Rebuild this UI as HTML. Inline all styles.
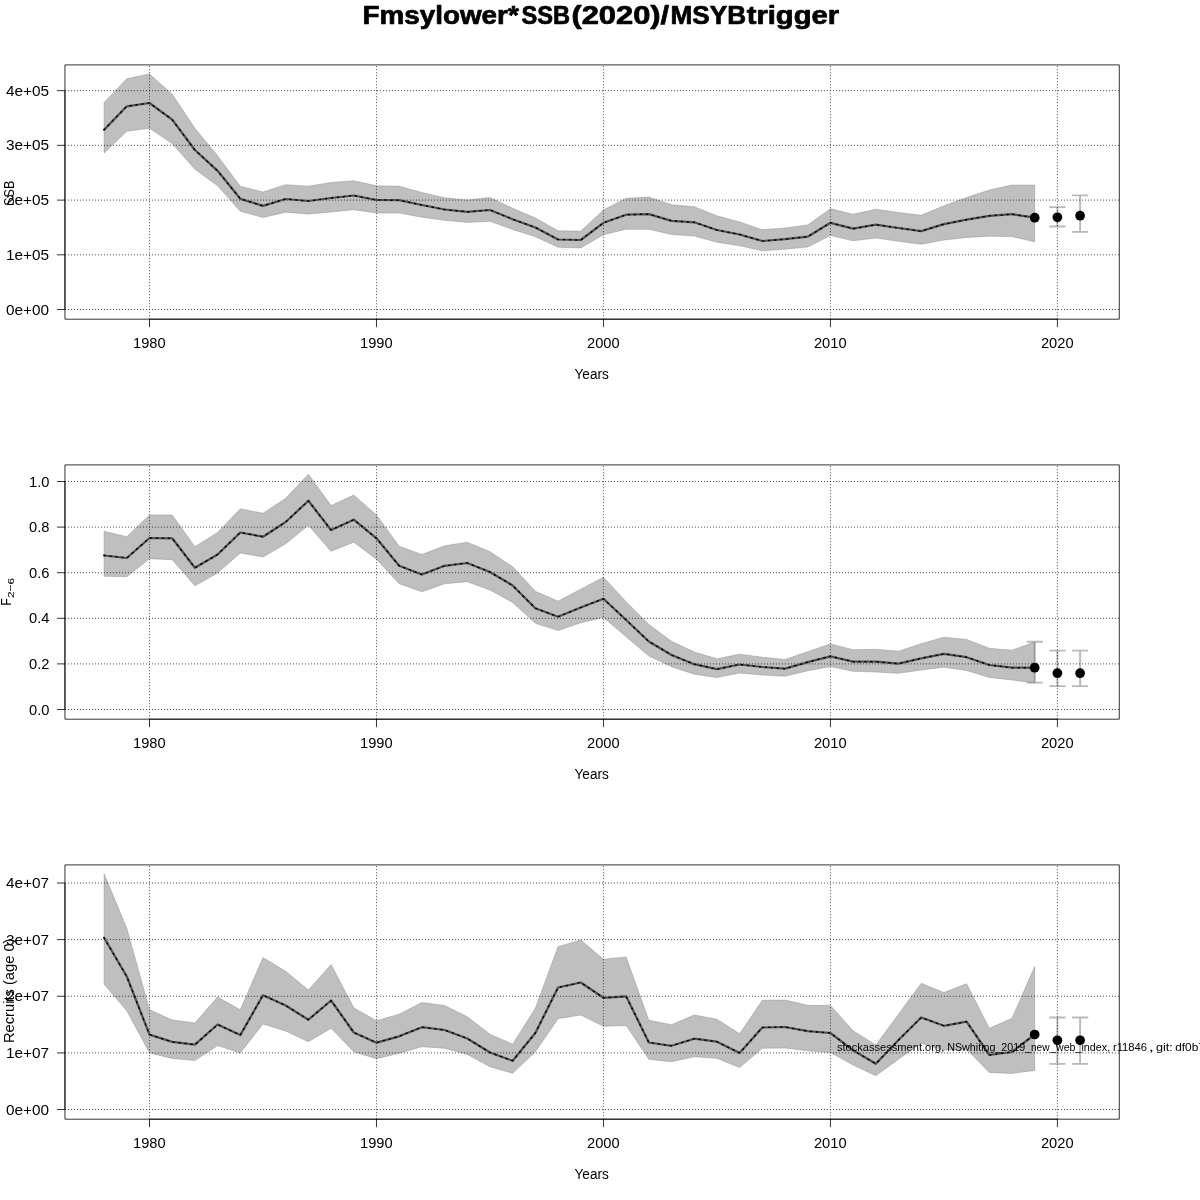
<!DOCTYPE html>
<html lang="en"><head><meta charset="utf-8"><title>Fmsylower*SSB(2020)/MSYBtrigger</title>
<style>html,body{margin:0;padding:0;background:#fff;}body{width:1200px;height:1200px;overflow:hidden;font-family:"Liberation Sans",sans-serif;}svg{display:block;will-change:transform;}</style></head>
<body>
<svg width="1200" height="1200" viewBox="0 0 1200 1200" font-family="'Liberation Sans', sans-serif" fill="#000">
<text x="362.5" y="23.6" font-size="25" font-weight="bold" stroke="#000" stroke-width="0.7" stroke-linejoin="round" textLength="156.26" lengthAdjust="spacingAndGlyphs">Fmsylower*</text>
<text x="521.55" y="23.6" font-size="25" font-weight="bold" stroke="#000" stroke-width="0.7" stroke-linejoin="round" textLength="48.57" lengthAdjust="spacingAndGlyphs">SSB</text>
<text x="571.4" y="23.6" font-size="25" font-weight="bold" stroke="#000" stroke-width="0.7" stroke-linejoin="round" textLength="97.76" lengthAdjust="spacingAndGlyphs">(2020)/</text>
<text x="670.5" y="23.6" font-size="25" font-weight="bold" stroke="#000" stroke-width="0.7" stroke-linejoin="round" textLength="75.56" lengthAdjust="spacingAndGlyphs">MSYB</text>
<text x="746.75" y="23.6" font-size="25" font-weight="bold" stroke="#000" stroke-width="0.7" stroke-linejoin="round" textLength="92.25" lengthAdjust="spacingAndGlyphs">trigger</text>
<g>
<path d="M1057.4 207.1V226.5M1049.3 207.1H1065.5M1049.3 226.5H1065.5" stroke="#7f7f7f" stroke-width="1.9" fill="none" stroke-opacity="0.55"/>
<path d="M1080.1 195.4V231.9M1072 195.4H1088.2M1072 231.9H1088.2" stroke="#7f7f7f" stroke-width="1.9" fill="none" stroke-opacity="0.55"/>
<polygon points="104.1,102.5 126.8,78.7 149.5,74.1 172.2,94.2 194.9,128.3 217.59,155.8 240.29,186.3 262.99,192 285.69,184.7 308.38,186.2 331.08,182.5 353.78,180.7 376.48,185.8 399.17,186.2 421.87,192.5 444.57,197.8 467.27,200 489.96,197.5 512.66,208.3 535.36,218 558.06,230.8 580.75,231.2 603.45,210 626.15,198.3 648.85,197.1 671.54,204.7 694.24,206.7 716.94,215.8 739.63,222 762.33,229.7 785.03,228 807.73,225 830.43,208.7 853.12,214.3 875.82,209.2 898.52,212.5 921.22,215.3 943.91,205.8 966.61,197.5 989.31,190 1012.01,185.1 1034.7,185.2 1034.7,241.8 1012.01,236.5 989.31,236.2 966.61,237.5 943.91,240 921.22,244.2 898.52,241.3 875.82,238 853.12,240.8 830.43,235.4 807.73,247 785.03,249.2 762.33,250.8 739.63,245.8 716.94,242.2 694.24,236 671.54,234.5 648.85,229.3 626.15,229.2 603.45,234.7 580.75,248 558.06,247.2 535.36,236.7 512.66,229.5 489.96,221.3 467.27,222.4 444.57,220.3 421.87,217.2 399.17,213 376.48,213 353.78,209.7 331.08,212 308.38,214 285.69,212.2 262.99,217.5 240.29,211.3 217.59,185.8 194.9,169.2 172.2,143.5 149.5,128.3 126.8,131.2 104.1,153" fill="#7f7f7f" fill-opacity="0.5" stroke="#7f7f7f" stroke-opacity="0.5" stroke-width="0.8" stroke-linejoin="round"/>
<line x1="64.95" y1="309.5" x2="1119.3" y2="309.5" stroke="#000" stroke-width="0.85" stroke-dasharray="0.85 2.15"/>
<line x1="64.95" y1="254.8" x2="1119.3" y2="254.8" stroke="#000" stroke-width="0.85" stroke-dasharray="0.85 2.15"/>
<line x1="64.95" y1="200.1" x2="1119.3" y2="200.1" stroke="#000" stroke-width="0.85" stroke-dasharray="0.85 2.15"/>
<line x1="64.95" y1="145.35" x2="1119.3" y2="145.35" stroke="#000" stroke-width="0.85" stroke-dasharray="0.85 2.15"/>
<line x1="64.95" y1="90.65" x2="1119.3" y2="90.65" stroke="#000" stroke-width="0.85" stroke-dasharray="0.85 2.15"/>
<line x1="149.5" y1="319.2" x2="149.5" y2="64.9" stroke="#000" stroke-width="0.85" stroke-dasharray="0.85 2.15"/>
<line x1="376.48" y1="319.2" x2="376.48" y2="64.9" stroke="#000" stroke-width="0.85" stroke-dasharray="0.85 2.15"/>
<line x1="603.45" y1="319.2" x2="603.45" y2="64.9" stroke="#000" stroke-width="0.85" stroke-dasharray="0.85 2.15"/>
<line x1="830.43" y1="319.2" x2="830.43" y2="64.9" stroke="#000" stroke-width="0.85" stroke-dasharray="0.85 2.15"/>
<line x1="1057.4" y1="319.2" x2="1057.4" y2="64.9" stroke="#000" stroke-width="0.85" stroke-dasharray="0.85 2.15"/>
<polyline points="104.1,129.7 126.8,106.3 149.5,103 172.2,119.7 194.9,150 217.59,170.8 240.29,198.8 262.99,205.8 285.69,199 308.38,201 331.08,198 353.78,195.5 376.48,200 399.17,200.2 421.87,205 444.57,209.5 467.27,211.8 489.96,210 512.66,219.2 535.36,227.5 558.06,239.5 580.75,240 603.45,222.8 626.15,214.7 648.85,214.1 671.54,220.8 694.24,222.3 716.94,230 739.63,234.5 762.33,241 785.03,239.2 807.73,236.7 830.43,222.8 853.12,228.7 875.82,224.7 898.52,228 921.22,231.2 943.91,224.2 966.61,219.7 989.31,215.8 1012.01,214.2 1034.7,217.7" fill="none" stroke="#505050" stroke-width="2.25" stroke-linejoin="round" stroke-linecap="round"/>
<polyline points="104.1,129.7 126.8,106.3 149.5,103 172.2,119.7 194.9,150 217.59,170.8 240.29,198.8 262.99,205.8 285.69,199 308.38,201 331.08,198 353.78,195.5 376.48,200 399.17,200.2 421.87,205 444.57,209.5 467.27,211.8 489.96,210 512.66,219.2 535.36,227.5 558.06,239.5 580.75,240 603.45,222.8 626.15,214.7 648.85,214.1 671.54,220.8 694.24,222.3 716.94,230 739.63,234.5 762.33,241 785.03,239.2 807.73,236.7 830.43,222.8 853.12,228.7 875.82,224.7 898.52,228 921.22,231.2 943.91,224.2 966.61,219.7 989.31,215.8 1012.01,214.2 1034.7,217.7" fill="none" stroke="#000" stroke-width="1.5" stroke-dasharray="1 5" stroke-linecap="round" stroke-linejoin="round"/>
<circle cx="1034.7" cy="217.7" r="4.85"/>
<circle cx="1057.4" cy="217.3" r="4.85"/>
<circle cx="1080.1" cy="215.7" r="4.85"/>
<rect x="64.95" y="64.9" width="1054.35" height="254.3" fill="none" stroke="#000" stroke-width="0.8" stroke-linejoin="round"/>
<path d="M64.95 90.65V309.5" stroke="#000" stroke-width="0.8" fill="none"/>
<path d="M149.5 319.2H1057.4" stroke="#000" stroke-width="0.8" fill="none"/>
<line x1="57" y1="309.5" x2="64.95" y2="309.5" stroke="#000" stroke-width="0.8"/>
<text x="6.0" y="315" font-size="14.0" textLength="43.12" lengthAdjust="spacingAndGlyphs">0e+00</text>
<line x1="57" y1="254.8" x2="64.95" y2="254.8" stroke="#000" stroke-width="0.8"/>
<text x="6.0" y="260" font-size="14.0" textLength="43.12" lengthAdjust="spacingAndGlyphs">1e+05</text>
<line x1="57" y1="200.1" x2="64.95" y2="200.1" stroke="#000" stroke-width="0.8"/>
<text x="6.0" y="205" font-size="14.0" textLength="43.12" lengthAdjust="spacingAndGlyphs">2e+05</text>
<line x1="57" y1="145.35" x2="64.95" y2="145.35" stroke="#000" stroke-width="0.8"/>
<text x="6.0" y="150" font-size="14.0" textLength="43.12" lengthAdjust="spacingAndGlyphs">3e+05</text>
<line x1="57" y1="90.65" x2="64.95" y2="90.65" stroke="#000" stroke-width="0.8"/>
<text x="6.0" y="96" font-size="14.0" textLength="43.12" lengthAdjust="spacingAndGlyphs">4e+05</text>
<line x1="149.5" y1="319.2" x2="149.5" y2="327.15" stroke="#000" stroke-width="0.8"/>
<text x="133.05" y="348" font-size="14.0" textLength="32.61" lengthAdjust="spacingAndGlyphs">1980</text>
<line x1="376.48" y1="319.2" x2="376.48" y2="327.15" stroke="#000" stroke-width="0.8"/>
<text x="360.03" y="348" font-size="14.0" textLength="32.61" lengthAdjust="spacingAndGlyphs">1990</text>
<line x1="603.45" y1="319.2" x2="603.45" y2="327.15" stroke="#000" stroke-width="0.8"/>
<text x="587" y="348" font-size="14.0" textLength="32.61" lengthAdjust="spacingAndGlyphs">2000</text>
<line x1="830.43" y1="319.2" x2="830.43" y2="327.15" stroke="#000" stroke-width="0.8"/>
<text x="813.98" y="348" font-size="14.0" textLength="32.61" lengthAdjust="spacingAndGlyphs">2010</text>
<line x1="1057.4" y1="319.2" x2="1057.4" y2="327.15" stroke="#000" stroke-width="0.8"/>
<text x="1040.95" y="348" font-size="14.0" textLength="32.61" lengthAdjust="spacingAndGlyphs">2020</text>
<text x="574.55" y="379" font-size="14.0" textLength="34.28" lengthAdjust="spacingAndGlyphs">Years</text>
</g>
<g>
<path d="M1034.7 641.8V682.6M1026.6 641.8H1042.8M1026.6 682.6H1042.8" stroke="#7f7f7f" stroke-width="1.9" fill="none" stroke-opacity="0.55"/>
<path d="M1057.4 650.6V686.1M1049.3 650.6H1065.5M1049.3 686.1H1065.5" stroke="#7f7f7f" stroke-width="1.9" fill="none" stroke-opacity="0.55"/>
<path d="M1080.1 650.6V686.1M1072 650.6H1088.2M1072 686.1H1088.2" stroke="#7f7f7f" stroke-width="1.9" fill="none" stroke-opacity="0.55"/>
<polygon points="104.1,531.3 126.8,536.7 149.5,515 172.2,515 194.9,546.7 217.59,532.5 240.29,508.8 262.99,513.3 285.69,498.3 308.38,474.2 331.08,505.5 353.78,495 376.48,515 399.17,546.2 421.87,554.5 444.57,545.8 467.27,542.2 489.96,551.7 512.66,566.7 535.36,591.3 558.06,601.2 580.75,589.2 603.45,577.2 626.15,601.7 648.85,624.4 671.54,641.3 694.24,652 716.94,658.8 739.63,654.2 762.33,657.2 785.03,659.5 807.73,651.7 830.43,644 853.12,649.7 875.82,649.3 898.52,651.2 921.22,643.7 943.91,637.2 966.61,639.5 989.31,648.3 1012.01,650.2 1034.7,642 1034.7,683 1012.01,680 989.31,677.5 966.61,670.5 943.91,667.2 921.22,670 898.52,673.3 875.82,672 853.12,671.3 830.43,666.5 807.73,670.8 785.03,676.2 762.33,675 739.63,673 716.94,677.5 694.24,674.2 671.54,666.7 648.85,656 626.15,636.7 603.45,617.5 580.75,622.8 558.06,630.5 535.36,623.3 512.66,602.5 489.96,590 467.27,581.7 444.57,583.8 421.87,591.7 399.17,583.7 376.48,559.2 353.78,542.2 331.08,551.3 308.38,525.3 285.69,543.8 262.99,557 240.29,553 217.59,573 194.9,585.8 172.2,559.7 149.5,558.7 126.8,576.7 104.1,576.3" fill="#7f7f7f" fill-opacity="0.5" stroke="#7f7f7f" stroke-opacity="0.5" stroke-width="0.8" stroke-linejoin="round"/>
<line x1="64.95" y1="709.5" x2="1119.3" y2="709.5" stroke="#000" stroke-width="0.85" stroke-dasharray="0.85 2.15"/>
<line x1="64.95" y1="663.9" x2="1119.3" y2="663.9" stroke="#000" stroke-width="0.85" stroke-dasharray="0.85 2.15"/>
<line x1="64.95" y1="618.3" x2="1119.3" y2="618.3" stroke="#000" stroke-width="0.85" stroke-dasharray="0.85 2.15"/>
<line x1="64.95" y1="572.7" x2="1119.3" y2="572.7" stroke="#000" stroke-width="0.85" stroke-dasharray="0.85 2.15"/>
<line x1="64.95" y1="527.1" x2="1119.3" y2="527.1" stroke="#000" stroke-width="0.85" stroke-dasharray="0.85 2.15"/>
<line x1="64.95" y1="481.5" x2="1119.3" y2="481.5" stroke="#000" stroke-width="0.85" stroke-dasharray="0.85 2.15"/>
<line x1="149.5" y1="719.2" x2="149.5" y2="464.9" stroke="#000" stroke-width="0.85" stroke-dasharray="0.85 2.15"/>
<line x1="376.48" y1="719.2" x2="376.48" y2="464.9" stroke="#000" stroke-width="0.85" stroke-dasharray="0.85 2.15"/>
<line x1="603.45" y1="719.2" x2="603.45" y2="464.9" stroke="#000" stroke-width="0.85" stroke-dasharray="0.85 2.15"/>
<line x1="830.43" y1="719.2" x2="830.43" y2="464.9" stroke="#000" stroke-width="0.85" stroke-dasharray="0.85 2.15"/>
<line x1="1057.4" y1="719.2" x2="1057.4" y2="464.9" stroke="#000" stroke-width="0.85" stroke-dasharray="0.85 2.15"/>
<polyline points="104.1,555.5 126.8,558 149.5,538 172.2,538.3 194.9,567.8 217.59,554.5 240.29,532.5 262.99,536.7 285.69,522 308.38,500.8 331.08,530 353.78,519.7 376.48,538.3 399.17,565.8 421.87,574.5 444.57,565.8 467.27,563 489.96,572 512.66,585.5 535.36,608.3 558.06,616.7 580.75,607.5 603.45,598.8 626.15,620 648.85,641.5 671.54,655 694.24,664.2 716.94,669.2 739.63,664.5 762.33,667 785.03,668.7 807.73,662.2 830.43,656.3 853.12,661.7 875.82,661.7 898.52,663.7 921.22,658.3 943.91,653.8 966.61,657.2 989.31,665 1012.01,667.7 1034.7,667.7" fill="none" stroke="#505050" stroke-width="2.25" stroke-linejoin="round" stroke-linecap="round"/>
<polyline points="104.1,555.5 126.8,558 149.5,538 172.2,538.3 194.9,567.8 217.59,554.5 240.29,532.5 262.99,536.7 285.69,522 308.38,500.8 331.08,530 353.78,519.7 376.48,538.3 399.17,565.8 421.87,574.5 444.57,565.8 467.27,563 489.96,572 512.66,585.5 535.36,608.3 558.06,616.7 580.75,607.5 603.45,598.8 626.15,620 648.85,641.5 671.54,655 694.24,664.2 716.94,669.2 739.63,664.5 762.33,667 785.03,668.7 807.73,662.2 830.43,656.3 853.12,661.7 875.82,661.7 898.52,663.7 921.22,658.3 943.91,653.8 966.61,657.2 989.31,665 1012.01,667.7 1034.7,667.7" fill="none" stroke="#000" stroke-width="1.5" stroke-dasharray="1 5" stroke-linecap="round" stroke-linejoin="round"/>
<circle cx="1034.7" cy="667.7" r="4.85"/>
<circle cx="1057.4" cy="673.2" r="4.85"/>
<circle cx="1080.1" cy="673.2" r="4.85"/>
<rect x="64.95" y="464.9" width="1054.35" height="254.3" fill="none" stroke="#000" stroke-width="0.8" stroke-linejoin="round"/>
<path d="M64.95 481.5V709.5" stroke="#000" stroke-width="0.8" fill="none"/>
<path d="M149.5 719.2H1057.4" stroke="#000" stroke-width="0.8" fill="none"/>
<line x1="57" y1="709.5" x2="64.95" y2="709.5" stroke="#000" stroke-width="0.8"/>
<text x="29.1" y="715" font-size="14.0" textLength="20.43" lengthAdjust="spacingAndGlyphs">0.0</text>
<line x1="57" y1="663.9" x2="64.95" y2="663.9" stroke="#000" stroke-width="0.8"/>
<text x="29.1" y="669" font-size="14.0" textLength="20.43" lengthAdjust="spacingAndGlyphs">0.2</text>
<line x1="57" y1="618.3" x2="64.95" y2="618.3" stroke="#000" stroke-width="0.8"/>
<text x="29.1" y="623" font-size="14.0" textLength="20.43" lengthAdjust="spacingAndGlyphs">0.4</text>
<line x1="57" y1="572.7" x2="64.95" y2="572.7" stroke="#000" stroke-width="0.8"/>
<text x="29.1" y="578" font-size="14.0" textLength="20.43" lengthAdjust="spacingAndGlyphs">0.6</text>
<line x1="57" y1="527.1" x2="64.95" y2="527.1" stroke="#000" stroke-width="0.8"/>
<text x="29.1" y="532" font-size="14.0" textLength="20.43" lengthAdjust="spacingAndGlyphs">0.8</text>
<line x1="57" y1="481.5" x2="64.95" y2="481.5" stroke="#000" stroke-width="0.8"/>
<text x="29.1" y="487" font-size="14.0" textLength="20.43" lengthAdjust="spacingAndGlyphs">1.0</text>
<line x1="149.5" y1="719.2" x2="149.5" y2="727.15" stroke="#000" stroke-width="0.8"/>
<text x="133.05" y="748" font-size="14.0" textLength="32.61" lengthAdjust="spacingAndGlyphs">1980</text>
<line x1="376.48" y1="719.2" x2="376.48" y2="727.15" stroke="#000" stroke-width="0.8"/>
<text x="360.03" y="748" font-size="14.0" textLength="32.61" lengthAdjust="spacingAndGlyphs">1990</text>
<line x1="603.45" y1="719.2" x2="603.45" y2="727.15" stroke="#000" stroke-width="0.8"/>
<text x="587" y="748" font-size="14.0" textLength="32.61" lengthAdjust="spacingAndGlyphs">2000</text>
<line x1="830.43" y1="719.2" x2="830.43" y2="727.15" stroke="#000" stroke-width="0.8"/>
<text x="813.98" y="748" font-size="14.0" textLength="32.61" lengthAdjust="spacingAndGlyphs">2010</text>
<line x1="1057.4" y1="719.2" x2="1057.4" y2="727.15" stroke="#000" stroke-width="0.8"/>
<text x="1040.95" y="748" font-size="14.0" textLength="32.61" lengthAdjust="spacingAndGlyphs">2020</text>
<text x="574.55" y="779" font-size="14.0" textLength="34.28" lengthAdjust="spacingAndGlyphs">Years</text>
</g>
<g>
<path d="M1057.4 1017.5V1063.9M1049.3 1017.5H1065.5M1049.3 1063.9H1065.5" stroke="#7f7f7f" stroke-width="1.9" fill="none" stroke-opacity="0.55"/>
<path d="M1080.1 1017.5V1063.9M1072 1017.5H1088.2M1072 1063.9H1088.2" stroke="#7f7f7f" stroke-width="1.9" fill="none" stroke-opacity="0.55"/>
<polygon points="104.1,873.8 126.8,928.3 149.5,1009.8 172.2,1019.9 194.9,1023 217.59,997 240.29,1009.8 262.99,957.6 285.69,971.3 308.38,990 331.08,964.5 353.78,1007.8 376.48,1020.8 399.17,1014.2 421.87,1002.5 444.57,1005.5 467.27,1016.7 489.96,1034.2 512.66,1044.2 535.36,1008.3 558.06,946.7 580.75,940 603.45,959.2 626.15,957 648.85,1020.3 671.54,1024.7 694.24,1015 716.94,1019.2 739.63,1033.8 762.33,1000.3 785.03,1000 807.73,1005.3 830.43,1005.5 853.12,1030.8 875.82,1045 898.52,1014.2 921.22,983.3 943.91,992.5 966.61,983.8 989.31,1028.3 1012.01,1018.2 1034.7,966.6 1034.7,1070.4 1012.01,1073.4 989.31,1072.5 966.61,1049.2 943.91,1050 921.22,1043.3 898.52,1059.2 875.82,1075.8 853.12,1065 830.43,1052.5 807.73,1050.8 785.03,1048 762.33,1048.3 739.63,1067.5 716.94,1058.3 694.24,1056.7 671.54,1061.7 648.85,1059.2 626.15,1025.5 603.45,1026.3 580.75,1015 558.06,1018.7 535.36,1051.7 512.66,1073.3 489.96,1066.7 467.27,1054.4 444.57,1048.3 421.87,1046.7 399.17,1053.3 376.48,1058.7 353.78,1051.7 331.08,1028.3 308.38,1041.7 285.69,1031 262.99,1024.1 240.29,1052.9 217.59,1045.6 194.9,1060.6 172.2,1058.4 149.5,1052.9 126.8,1010.8 104.1,984.2" fill="#7f7f7f" fill-opacity="0.5" stroke="#7f7f7f" stroke-opacity="0.5" stroke-width="0.8" stroke-linejoin="round"/>
<line x1="64.95" y1="1109.5" x2="1119.3" y2="1109.5" stroke="#000" stroke-width="0.85" stroke-dasharray="0.85 2.15"/>
<line x1="64.95" y1="1052.9" x2="1119.3" y2="1052.9" stroke="#000" stroke-width="0.85" stroke-dasharray="0.85 2.15"/>
<line x1="64.95" y1="996.25" x2="1119.3" y2="996.25" stroke="#000" stroke-width="0.85" stroke-dasharray="0.85 2.15"/>
<line x1="64.95" y1="939.6" x2="1119.3" y2="939.6" stroke="#000" stroke-width="0.85" stroke-dasharray="0.85 2.15"/>
<line x1="64.95" y1="883" x2="1119.3" y2="883" stroke="#000" stroke-width="0.85" stroke-dasharray="0.85 2.15"/>
<line x1="149.5" y1="1119.2" x2="149.5" y2="864.9" stroke="#000" stroke-width="0.85" stroke-dasharray="0.85 2.15"/>
<line x1="376.48" y1="1119.2" x2="376.48" y2="864.9" stroke="#000" stroke-width="0.85" stroke-dasharray="0.85 2.15"/>
<line x1="603.45" y1="1119.2" x2="603.45" y2="864.9" stroke="#000" stroke-width="0.85" stroke-dasharray="0.85 2.15"/>
<line x1="830.43" y1="1119.2" x2="830.43" y2="864.9" stroke="#000" stroke-width="0.85" stroke-dasharray="0.85 2.15"/>
<line x1="1057.4" y1="1119.2" x2="1057.4" y2="864.9" stroke="#000" stroke-width="0.85" stroke-dasharray="0.85 2.15"/>
<polyline points="104.1,937.8 126.8,976.5 149.5,1034.6 172.2,1041.9 194.9,1044.7 217.59,1024.5 240.29,1035.1 262.99,995.2 285.69,1005.5 308.38,1019.7 331.08,1000.5 353.78,1032.5 376.48,1042.7 399.17,1036.3 421.87,1027.2 444.57,1030 467.27,1038.5 489.96,1052.5 512.66,1060.8 535.36,1033 558.06,987.5 580.75,982.5 603.45,997.8 626.15,996.3 648.85,1042.5 671.54,1045.8 694.24,1038.7 716.94,1041.7 739.63,1053 762.33,1027.5 785.03,1027 807.73,1031.2 830.43,1033 853.12,1050.3 875.82,1063.8 898.52,1040 921.22,1017.5 943.91,1025.8 966.61,1021.7 989.31,1055 1012.01,1052 1034.7,1034.5" fill="none" stroke="#505050" stroke-width="2.25" stroke-linejoin="round" stroke-linecap="round"/>
<polyline points="104.1,937.8 126.8,976.5 149.5,1034.6 172.2,1041.9 194.9,1044.7 217.59,1024.5 240.29,1035.1 262.99,995.2 285.69,1005.5 308.38,1019.7 331.08,1000.5 353.78,1032.5 376.48,1042.7 399.17,1036.3 421.87,1027.2 444.57,1030 467.27,1038.5 489.96,1052.5 512.66,1060.8 535.36,1033 558.06,987.5 580.75,982.5 603.45,997.8 626.15,996.3 648.85,1042.5 671.54,1045.8 694.24,1038.7 716.94,1041.7 739.63,1053 762.33,1027.5 785.03,1027 807.73,1031.2 830.43,1033 853.12,1050.3 875.82,1063.8 898.52,1040 921.22,1017.5 943.91,1025.8 966.61,1021.7 989.31,1055 1012.01,1052 1034.7,1034.5" fill="none" stroke="#000" stroke-width="1.5" stroke-dasharray="1 5" stroke-linecap="round" stroke-linejoin="round"/>
<circle cx="1034.7" cy="1034.5" r="4.85"/>
<circle cx="1057.4" cy="1040.3" r="4.85"/>
<circle cx="1080.1" cy="1040.3" r="4.85"/>
<rect x="64.95" y="864.9" width="1054.35" height="254.3" fill="none" stroke="#000" stroke-width="0.8" stroke-linejoin="round"/>
<path d="M64.95 883V1109.5" stroke="#000" stroke-width="0.8" fill="none"/>
<path d="M149.5 1119.2H1057.4" stroke="#000" stroke-width="0.8" fill="none"/>
<line x1="57" y1="1109.5" x2="64.95" y2="1109.5" stroke="#000" stroke-width="0.8"/>
<text x="6.0" y="1115" font-size="14.0" textLength="43.12" lengthAdjust="spacingAndGlyphs">0e+00</text>
<line x1="57" y1="1052.9" x2="64.95" y2="1052.9" stroke="#000" stroke-width="0.8"/>
<text x="6.0" y="1058" font-size="14.0" textLength="43.12" lengthAdjust="spacingAndGlyphs">1e+07</text>
<line x1="57" y1="996.25" x2="64.95" y2="996.25" stroke="#000" stroke-width="0.8"/>
<text x="6.0" y="1001" font-size="14.0" textLength="43.12" lengthAdjust="spacingAndGlyphs">2e+07</text>
<line x1="57" y1="939.6" x2="64.95" y2="939.6" stroke="#000" stroke-width="0.8"/>
<text x="6.0" y="945" font-size="14.0" textLength="43.12" lengthAdjust="spacingAndGlyphs">3e+07</text>
<line x1="57" y1="883" x2="64.95" y2="883" stroke="#000" stroke-width="0.8"/>
<text x="6.0" y="888" font-size="14.0" textLength="43.12" lengthAdjust="spacingAndGlyphs">4e+07</text>
<line x1="149.5" y1="1119.2" x2="149.5" y2="1127.15" stroke="#000" stroke-width="0.8"/>
<text x="133.05" y="1148" font-size="14.0" textLength="32.61" lengthAdjust="spacingAndGlyphs">1980</text>
<line x1="376.48" y1="1119.2" x2="376.48" y2="1127.15" stroke="#000" stroke-width="0.8"/>
<text x="360.03" y="1148" font-size="14.0" textLength="32.61" lengthAdjust="spacingAndGlyphs">1990</text>
<line x1="603.45" y1="1119.2" x2="603.45" y2="1127.15" stroke="#000" stroke-width="0.8"/>
<text x="587" y="1148" font-size="14.0" textLength="32.61" lengthAdjust="spacingAndGlyphs">2000</text>
<line x1="830.43" y1="1119.2" x2="830.43" y2="1127.15" stroke="#000" stroke-width="0.8"/>
<text x="813.98" y="1148" font-size="14.0" textLength="32.61" lengthAdjust="spacingAndGlyphs">2010</text>
<line x1="1057.4" y1="1119.2" x2="1057.4" y2="1127.15" stroke="#000" stroke-width="0.8"/>
<text x="1040.95" y="1148" font-size="14.0" textLength="32.61" lengthAdjust="spacingAndGlyphs">2020</text>
<text x="574.55" y="1179" font-size="14.0" textLength="34.28" lengthAdjust="spacingAndGlyphs">Years</text>
</g>
<text transform="translate(14.0 205.3) rotate(-90)" x="-0.49" font-size="14.0" textLength="25.21" lengthAdjust="spacingAndGlyphs">SSB</text>
<g transform="translate(10.8 604.8) rotate(-90)"><text x="-0.97" y="0" font-size="14.0" textLength="7.46" lengthAdjust="spacingAndGlyphs">F</text><text x="6.81" y="3.4" font-size="9.9" textLength="20.25" lengthAdjust="spacingAndGlyphs">2−6</text></g>
<text transform="translate(14.0 1041.8) rotate(-90)" x="-1.25" font-size="14.0" textLength="104.49" lengthAdjust="spacingAndGlyphs">Recruits (age 0)</text>
<text x="836.9" y="1050.8" font-size="10.9" textLength="107.37" lengthAdjust="spacingAndGlyphs">stockassessment.org,</text>
<text x="947.25" y="1050.8" font-size="10.9" textLength="77.92" lengthAdjust="spacingAndGlyphs">NSwhiting_2019</text>
<text x="1025.25" y="1050.8" font-size="10.9" textLength="24.4" lengthAdjust="spacingAndGlyphs">_new</text>
<text x="1050.15" y="1050.8" font-size="10.9" textLength="25.25" lengthAdjust="spacingAndGlyphs">_web</text>
<text x="1075.45" y="1050.8" font-size="10.9" textLength="34.81" lengthAdjust="spacingAndGlyphs">_index,</text>
<text x="1112.95" y="1050.8" font-size="10.9" textLength="34.14" lengthAdjust="spacingAndGlyphs">r11846</text>
<text x="1148.4" y="1050.8" font-size="10.9" textLength="5.67" lengthAdjust="spacingAndGlyphs">,</text>
<text x="1156.0" y="1050.8" font-size="10.9" textLength="16.83" lengthAdjust="spacingAndGlyphs">git:</text>
<text x="1175.2" y="1050.8" font-size="10.9" textLength="23.05" lengthAdjust="spacingAndGlyphs">df0b</text>
<text x="1197.94" y="1050.8" font-size="10.9" textLength="8.17" lengthAdjust="spacingAndGlyphs">7</text>
</svg>
</body></html>
